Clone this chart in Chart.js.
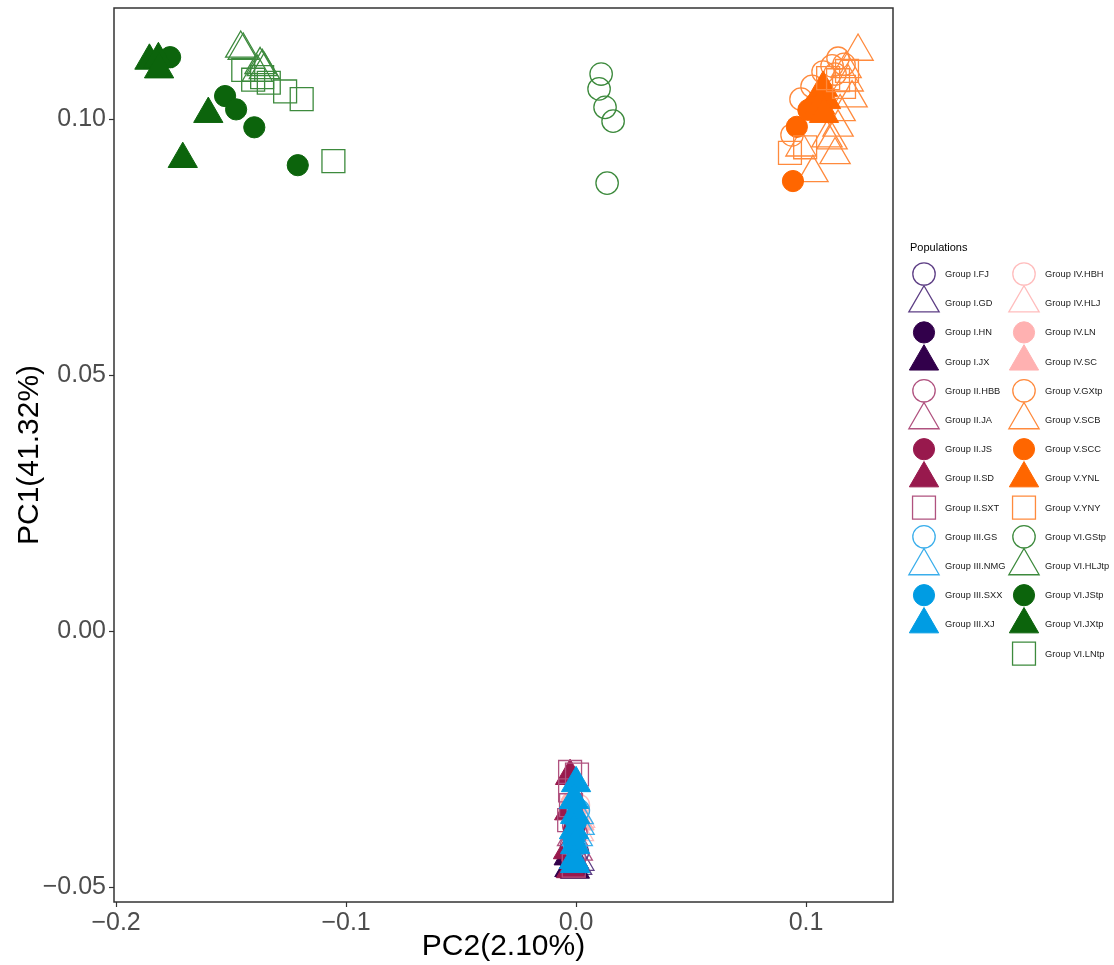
<!DOCTYPE html>
<html>
<head>
<meta charset="utf-8">
<script src="https://cdn.jsdelivr.net/npm/chart.js@4.4.1/dist/chart.umd.min.js"></script>
<style>
  html, body { margin: 0; padding: 0; background: #fff; }
  #wrap { width: 1114px; height: 965px; }
</style>
</head>
<body>
<div id="wrap"><canvas id="pca" width="1114" height="965"></canvas></div>
<script>
// PCA of the populations: PC2 on x, PC1 on y. Points are [PC2, PC1].

// Group I
var groupI_FJ  = [[-0.0020, -0.0440], [-0.0008, -0.0455], [0.0006, -0.0432]];
var groupI_GD  = [[-0.0025, -0.0462], [0.0002, -0.0458], [0.0012, -0.0450]];
var groupI_HN  = [[-0.0030, -0.0445], [-0.0015, -0.0460]];
var groupI_JX  = [[-0.0028, -0.0463], [-0.0005, -0.0466], [-0.0032, -0.0440]];
// Group II
var groupII_HBB = [[-0.0010, -0.0380], [0.0000, -0.0395], [-0.0020, -0.0420]];
var groupII_JA  = [[-0.0015, -0.0402], [0.0005, -0.0430]];
var groupII_JS  = [[-0.0008, -0.0386], [-0.0020, -0.0440]];
var groupII_SD  = [[-0.0026, -0.0283], [-0.0035, -0.0428], [-0.0022, -0.0465], [-0.0009, -0.0447], [-0.0030, -0.0352]];
var groupII_SXT = [[-0.0026, -0.0275], [-0.0026, -0.0311], [-0.0022, -0.0340], [-0.0030, -0.0369], [0.0004, -0.0280], [-0.0010, -0.0458]];
// Group III
var groupIII_GS  = [[0.0010, -0.0350], [-0.0005, -0.0420]];
var groupIII_NMG = [[0.0009, -0.0359], [0.0013, -0.0380], [0.0005, -0.0402]];
var groupIII_SXX = [[0.0000, -0.0372], [-0.0010, -0.0410]];
var groupIII_XJ  = [[0.0000, -0.0297], [-0.0009, -0.0330], [-0.0004, -0.0359], [-0.0009, -0.0389], [-0.0004, -0.0418], [-0.0009, -0.0447], [-0.0004, -0.0455]];
// Group IV
var groupIV_HBH = [[0.0010, -0.0340], [0.0005, -0.0362]];
var groupIV_HLJ = [[0.0015, -0.0366], [0.0010, -0.0392]];
var groupIV_LN  = [[-0.0020, -0.0335]];
var groupIV_SC  = [[-0.0015, -0.0338], [0.0015, -0.0372]];
// Group V
var groupV_GXtp = [[0.1139, 0.1119], [0.1165, 0.1107], [0.1113, 0.1104], [0.1074, 0.1092], [0.1026, 0.1064], [0.0978, 0.1039], [0.0939, 0.0969], [0.1126, 0.1088]];
var groupV_SCB  = [[0.1226, 0.1132], [0.1174, 0.1098], [0.1183, 0.1072], [0.1200, 0.1041], [0.1148, 0.1014], [0.1139, 0.0984], [0.1113, 0.0959], [0.1126, 0.0930], [0.1091, 0.0963], [0.0978, 0.0945], [0.1030, 0.0895]];
var groupV_SCC  = [[0.0960, 0.0985], [0.1010, 0.1018], [0.0943, 0.0879], [0.1039, 0.1029]];
var groupV_YNL  = [[0.1074, 0.1061], [0.1087, 0.1037], [0.1061, 0.1027], [0.1078, 0.1010]];
var groupV_YNY  = [[0.1096, 0.1080], [0.1178, 0.1094], [0.1165, 0.1063], [0.1139, 0.1076], [0.0930, 0.0934], [0.0996, 0.0945]];
// Group VI
var groupVI_GStp  = [[0.0109, 0.1088], [0.0100, 0.1059], [0.0126, 0.1023], [0.0161, 0.0996], [0.0135, 0.0875]];
var groupVI_HLJtp = [[-0.1458, 0.1138], [-0.1447, 0.1134], [-0.1374, 0.1106], [-0.1364, 0.1102], [-0.1355, 0.1096], [-0.1386, 0.1091]];
var groupVI_JStp  = [[-0.1765, 0.1121], [-0.1526, 0.1045], [-0.1478, 0.1019], [-0.1399, 0.0984], [-0.1210, 0.0910]];
var groupVI_JXtp  = [[-0.1855, 0.1114], [-0.1816, 0.1117], [-0.1813, 0.1097], [-0.1599, 0.1010], [-0.1710, 0.0922]];
var groupVI_LNtp  = [[-0.1447, 0.1096], [-0.1404, 0.1077], [-0.1365, 0.1082], [-0.1336, 0.1071], [-0.1265, 0.1054], [-0.1193, 0.1039], [-0.1055, 0.0918]];

var xTickValues = [-0.2, -0.1, 0.0, 0.1];
var xTickLabels = ['\u22120.2', '\u22120.1', '0.0', '0.1'];
var yTickValues = [-0.05, 0.00, 0.05, 0.10];
var yTickLabels = ['\u22120.05', '0.00', '0.05', '0.10'];

// name, group, shape, filled, points
var populations = [
    ['Group I.FJ', 'I', 'circle', false, groupI_FJ],
    ['Group I.GD', 'I', 'triangle', false, groupI_GD],
    ['Group I.HN', 'I', 'circle', true, groupI_HN],
    ['Group I.JX', 'I', 'triangle', true, groupI_JX],
    ['Group II.HBB', 'II', 'circle', false, groupII_HBB],
    ['Group II.JA', 'II', 'triangle', false, groupII_JA],
    ['Group II.JS', 'II', 'circle', true, groupII_JS],
    ['Group II.SD', 'II', 'triangle', true, groupII_SD],
    ['Group II.SXT', 'II', 'rect', false, groupII_SXT],
    ['Group III.GS', 'III', 'circle', false, groupIII_GS],
    ['Group III.NMG', 'III', 'triangle', false, groupIII_NMG],
    ['Group III.SXX', 'III', 'circle', true, groupIII_SXX],
    ['Group III.XJ', 'III', 'triangle', true, groupIII_XJ],
    ['Group IV.HBH', 'IV', 'circle', false, groupIV_HBH],
    ['Group IV.HLJ', 'IV', 'triangle', false, groupIV_HLJ],
    ['Group IV.LN', 'IV', 'circle', true, groupIV_LN],
    ['Group IV.SC', 'IV', 'triangle', true, groupIV_SC],
    ['Group V.GXtp', 'V', 'circle', false, groupV_GXtp],
    ['Group V.SCB', 'V', 'triangle', false, groupV_SCB],
    ['Group V.SCC', 'V', 'circle', true, groupV_SCC],
    ['Group V.YNL', 'V', 'triangle', true, groupV_YNL],
    ['Group V.YNY', 'V', 'rect', false, groupV_YNY],
    ['Group VI.GStp', 'VI', 'circle', false, groupVI_GStp],
    ['Group VI.HLJtp', 'VI', 'triangle', false, groupVI_HLJtp],
    ['Group VI.JStp', 'VI', 'circle', true, groupVI_JStp],
    ['Group VI.JXtp', 'VI', 'triangle', true, groupVI_JXtp],
    ['Group VI.LNtp', 'VI', 'rect', false, groupVI_LNtp]
];

// filled colour, outline colour, draw layer (lower = on top)
var palette = {
    I:   ['#32004B', '#5E3F85', 3],
    II:  ['#98194D', '#B0527F', 2],
    III: ['#009CE3', '#3AAEEB', 1],
    IV:  ['#FFB1B1', '#FFBDBD', 4],
    V:   ['#FF6600', '#FF8A3D', 5],
    VI:  ['#0C640C', '#3D8A3D', 6]
};
var shapeRadius = { circle: 11.2, triangle: 17.5, rect: 16.2 };

var FONT = '"Liberation Sans", Arial, Helvetica, sans-serif';
Chart.defaults.font.family = FONT;

var datasets = populations.map(function (p, i) {
    var c = palette[p[1]];
    return {
        label: p[0],
        data: p[4],
        pointStyle: p[2],
        pointRadius: p[3] ? shapeRadius[p[2]] - 0.6 : shapeRadius[p[2]],
        pointHoverRadius: p[3] ? shapeRadius[p[2]] - 0.6 : shapeRadius[p[2]],
        pointBackgroundColor: p[3] ? c[0] : 'rgba(0,0,0,0)',
        pointBorderColor: p[3] ? c[0] : c[1],
        pointBorderWidth: p[3] ? 1 : 1.3,
        showLine: false,
        order: c[2] * 100 - i
    };
});

function drawShape(ctx, style, x, y, r, fill, stroke, lw)
{
    ctx.beginPath();
    if (style === 'circle') {
        ctx.arc(x, y, r, 0, Math.PI * 2);
    } else if (style === 'triangle') {
        for (let k = 0; k < 3; k++) {
            const a = k * 2 * Math.PI / 3;
            const px = x + Math.sin(a) * r, py = y - Math.cos(a) * r;
            if (k) ctx.lineTo(px, py); else ctx.moveTo(px, py);
        }
        ctx.closePath();
    } else {
        const s = r * Math.SQRT1_2;
        ctx.rect(x - s, y - s, 2 * s, 2 * s);
    }
    ctx.fillStyle = fill;
    ctx.fill();
    ctx.lineWidth = lw;
    ctx.strokeStyle = stroke;
    ctx.stroke();
}

// two-column legend on the right, drawn from the datasets
var populationLegend = {
    id: 'populationLegend',
    afterDraw(chart) {
        const ctx = chart.ctx;
        ctx.save();
        ctx.textBaseline = 'middle';
        ctx.textAlign = 'left';
        ctx.fillStyle = '#000';
        ctx.font = '11px ' + FONT;
        ctx.fillText('Populations', 910, 248);
        chart.data.datasets.forEach(function (ds, i) {
            const col = i < 13 ? 0 : 1;
            const row = col ? i - 13 : i;
            const kx = col ? 1024 : 924;
            const ky = 274 + row * 29.2;
            drawShape(ctx, ds.pointStyle, kx, ky, ds.pointRadius,
                      ds.pointBackgroundColor, ds.pointBorderColor, ds.pointBorderWidth);
            ctx.fillStyle = '#1a1a1a';
            ctx.font = '9.3px ' + FONT;
            ctx.fillText(ds.label, col ? 1045 : 945, ky + 0.5);
        });
        ctx.restore();
    }
};

// panel border on top of the points
var panelBorder = {
    id: 'panelBorder',
    afterDatasetsDraw(chart) {
        const a = chart.chartArea, ctx = chart.ctx;
        ctx.save();
        ctx.strokeStyle = '#333333';
        ctx.lineWidth = 1.5;
        ctx.strokeRect(a.left, a.top, a.right - a.left, a.bottom - a.top);
        ctx.restore();
    }
};

const ctx = document.getElementById('pca').getContext('2d');
new Chart(ctx, {
    type: 'scatter',
    data: { datasets: datasets },
    plugins: [panelBorder, populationLegend],
    options: {
        responsive: false,
        animation: false,
        events: [],
        layout: { autoPadding: false, padding: { top: 8, right: 221, left: 0, bottom: 0 } },
        scales: {
            x: {
                type: 'linear',
                min: -0.2009,
                max: 0.1378,
                afterFit: function (s) { s.height = 63; s.paddingLeft = 0; s.paddingRight = 0; },
                afterBuildTicks: function (s) { s.ticks = xTickValues.map(function (v) { return { value: v }; }); },
                border: { display: false },
                grid: { drawOnChartArea: false, drawTicks: true, tickLength: 5, tickColor: '#333333', tickWidth: 1.2 },
                ticks: {
                    color: '#4D4D4D',
                    font: { size: 25 },
                    padding: 1,
                    maxRotation: 0,
                    callback: function (v) { return xTickLabels[xTickValues.indexOf(v)]; }
                },
                title: { display: true, text: 'PC2(2.10%)', color: '#000', font: { size: 30 }, padding: { top: 0, bottom: 0 } }
            },
            y: {
                type: 'linear',
                min: -0.0529,
                max: 0.1217,
                afterFit: function (s) { s.width = 114; s.paddingTop = 0; s.paddingBottom = 0; },
                afterBuildTicks: function (s) { s.ticks = yTickValues.map(function (v) { return { value: v }; }); },
                border: { display: false },
                grid: { drawOnChartArea: false, drawTicks: true, tickLength: 5, tickColor: '#333333', tickWidth: 1.2 },
                ticks: {
                    color: '#4D4D4D',
                    font: { size: 25 },
                    padding: 3,
                    callback: function (v) { return yTickLabels[yTickValues.indexOf(v)]; }
                },
                title: { display: true, text: 'PC1(41.32%)', color: '#000', font: { size: 30 }, padding: { top: 12, bottom: 0 } }
            }
        },
        plugins: {
            legend: { display: false },
            tooltip: { enabled: false }
        }
    }
});
</script>
</body>
</html>
